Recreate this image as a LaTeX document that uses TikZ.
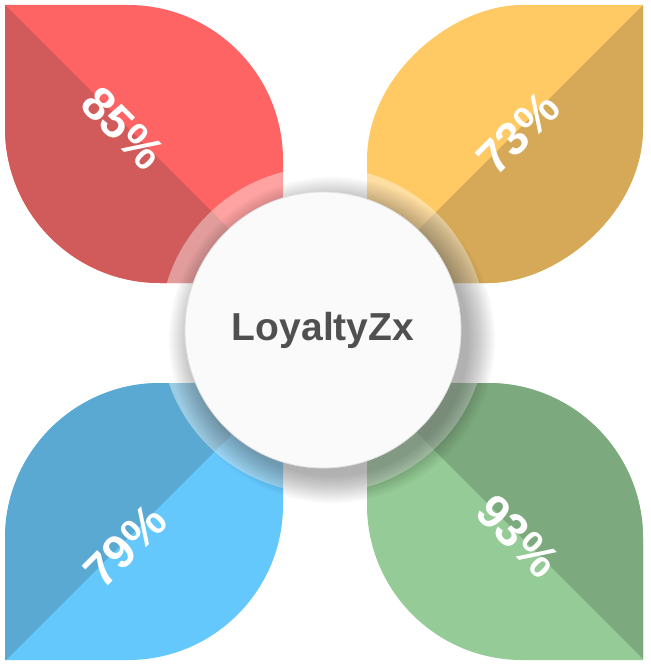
\documentclass[tikz,border=0pt]{standalone}
\usepackage{fontspec}
\setmainfont{Liberation Sans}
\definecolor{redL}{HTML}{FF6464}
\definecolor{redD}{HTML}{D15B5B}
\definecolor{yelL}{HTML}{FFC964}
\definecolor{yelD}{HTML}{D5A957}
\definecolor{bluD}{HTML}{5AA9D3}
\definecolor{bluL}{HTML}{64C8FD}
\definecolor{grnD}{HTML}{7CA97D}
\definecolor{grnL}{HTML}{95CB96}
\definecolor{txtC}{HTML}{505050}
\definecolor{hubC}{HTML}{FAFAFA}
\tikzset{
  pct/.style={text=white, font=\fontsize{47}{47}\selectfont\bfseries, inner sep=0pt},
  hubtext/.style={text=txtC, font=\fontsize{39}{39}\selectfont\bfseries},
}
\begin{document}
\begin{tikzpicture}[x=1pt,y=-1pt]
\useasboundingbox (0,0) rectangle (650,666);
\fill[white] (0,0) rectangle (650,666);
% red petal
\def\redpath{(5,5) -- (128,5) .. controls (213.6,5) and (283,74.4) .. (283,160) -- (283,283) -- (160,283) .. controls (74.4,283) and (5,213.6) .. (5,128) -- cycle}
\fill[redL] \redpath;
\begin{scope}\clip \redpath; \fill[redD] (0,0) -- (290,290) -- (0,290) -- cycle;\end{scope}
% yellow petal
\def\yelpath{(643,5) -- (643,128) .. controls (643,213.6) and (557.6,283) .. (488,283) -- (367,283) -- (367,160) .. controls (367,74.4) and (452.6,5) .. (522,5) -- cycle}
\fill[yelL] \yelpath;
\begin{scope}\clip \yelpath; \fill[yelD] (648,0) -- (360,288) -- (650,288) -- cycle;\end{scope}
% blue petal
\def\blupath{(5,660) -- (5,538) .. controls (5,452.6) and (74.4,383) .. (160,383) -- (283,383) -- (283,505) .. controls (283,590.6) and (213.6,660) .. (128,660) -- cycle}
\fill[bluL] \blupath;
\begin{scope}\clip \blupath; \fill[bluD] (0,378) -- (288,378) -- (0,666) -- cycle;\end{scope}
% green petal
\def\grnpath{(367,383) -- (488,383) .. controls (573.6,383) and (643,452.6) .. (643,538) -- (643,660) -- (522,660) .. controls (436.4,660) and (367,590.6) .. (367,505) -- cycle}
\fill[grnL] \grnpath;
\begin{scope}\clip \grnpath; \fill[grnD] (362,378) -- (650,378) -- (650,666) -- cycle;\end{scope}
% translucent ring
\fill[white, fill opacity=0.4, even odd rule] (323,330) circle[radius=163] (323,330) circle[radius=137];
% shadow
\foreach \i in {0,...,13} {
  \fill[black, fill opacity=0.022] (332,340) circle[radius=137+2*\i];
}
% hub
\node[circle, minimum size=276pt, fill=hubC, draw=black!12, line width=0.8pt, inner sep=0pt] (hub) at (323,330) {};
\node[hubtext] (hubt) at (hub.center) {LoyaltyZx};
% labels
\node[pct, rotate=-45] (p85) at (123,128) {85\%};
\node[pct, rotate=45] (p73) at (518,133) {73\%};
\node[pct, rotate=45] (p79) at (125,546) {79\%};
\node[pct, rotate=-45] (p93) at (518,536) {93\%};
\end{tikzpicture}
\end{document}
